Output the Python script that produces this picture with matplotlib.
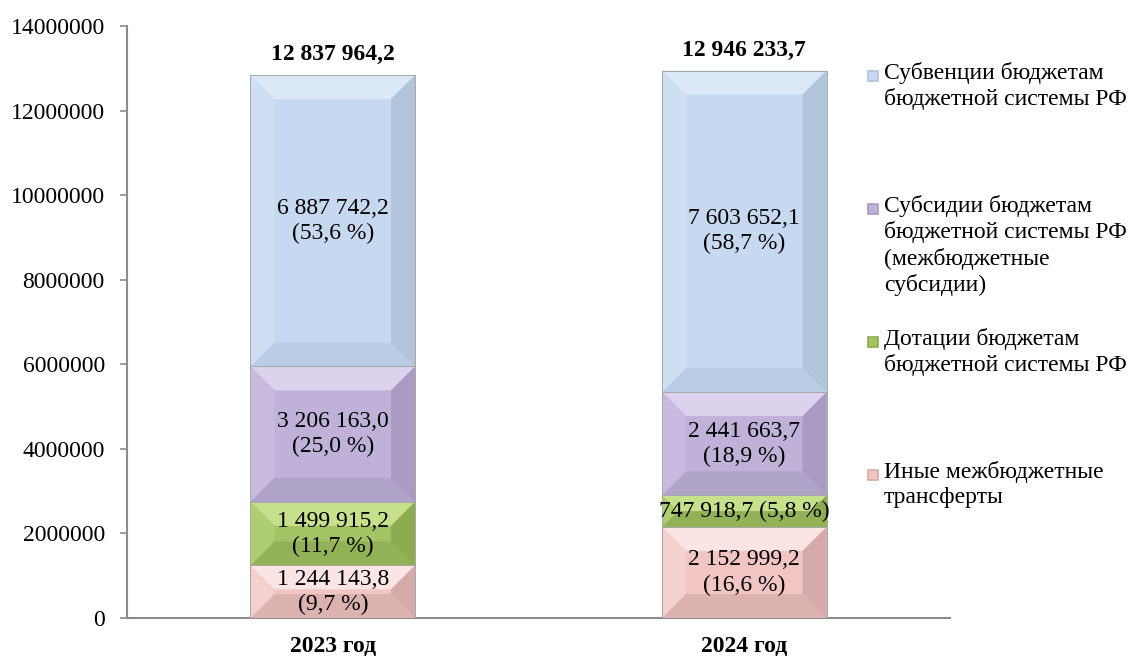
import matplotlib
matplotlib.use("Agg")
import matplotlib.pyplot as plt
from matplotlib.patches import Polygon
import numpy as np

# ---- data ----
categories = ["2023 год", "2024 год"]
series_names = [
    "Иные межбюджетные\nтрансферты",
    "Дотации бюджетам\nбюджетной системы РФ",
    "Субсидии бюджетам\nбюджетной системы РФ\n(межбюджетные\nсубсидии)",
    "Субвенции бюджетам\nбюджетной системы РФ",
]
inye = [1244143.8, 2152999.2]
dotacii = [1499915.2, 747918.7]
subsidii = [3206163.0, 2441663.7]
subvencii = [6887742.2, 7603652.1]
pct_inye = [9.7, 16.6]
pct_dotacii = [11.7, 5.8]
pct_subsidii = [25.0, 18.9]
pct_subvencii = [53.6, 58.7]
totals = [12837964.2, 12946233.7]
yticks = [0, 2000000, 4000000, 6000000, 8000000, 10000000, 12000000, 14000000]

series = [inye, dotacii, subsidii, subvencii]
pcts = [pct_inye, pct_dotacii, pct_subsidii, pct_subvencii]

# colours: face, top, bottom, left, right
palettes = [
    ("#f0c5c4", "#fbe4e4", "#dcb2b1", "#f4d0cf", "#d4abaa"),
    ("#a3c364", "#c6e08c", "#93b257", "#aecd72", "#8dab51"),
    ("#bfb1d8", "#ddd2ee", "#b0a3c8", "#c7bade", "#a99bc2"),
    ("#c6d9f1", "#dae8f8", "#bacde4", "#cedff4", "#b1c4dc"),
]

plt.rcParams['font.family'] = ['Liberation Serif', 'DejaVu Serif']
FS = 17

fig = plt.figure(figsize=(11.34, 6.59), dpi=100)
ax = fig.add_axes([127/1134, 1-618/659, (950-127)/1134, (618-26)/659])

x = np.arange(len(categories))
width = 0.4
ax.set_xlim(-0.5, len(categories) - 0.5)
ax.set_ylim(0, 14000000)

def fmt(v):
    return f"{v:,.1f}".replace(",", " ").replace(".", ",")

bottoms = np.zeros(len(categories))
bar_groups = []
for vals, pal in zip(series, palettes):
    bars = ax.bar(x, vals, width, bottom=bottoms, color=pal[0],
                  edgecolor="#b0b0b0", linewidth=0.6, zorder=2)
    bar_groups.append(bars)
    bottoms = bottoms + np.array(vals)

# bevel overlay
fig.canvas.draw()
inv = ax.transData.inverted()
D = 24
for bars, pal in zip(bar_groups, palettes):
    for b in bars:
        (x0, y0) = ax.transData.transform((b.get_x(), b.get_y()))
        (x1, y1) = ax.transData.transform((b.get_x() + b.get_width(), b.get_y() + b.get_height()))
        d = min(D, (x1 - x0) / 2, (y1 - y0) / 2)
        polys = [
            ([(x0, y1), (x1, y1), (x1 - d, y1 - d), (x0 + d, y1 - d)], pal[1]),
            ([(x0, y0), (x1, y0), (x1 - d, y0 + d), (x0 + d, y0 + d)], pal[2]),
            ([(x0, y0), (x0 + d, y0 + d), (x0 + d, y1 - d), (x0, y1)], pal[3]),
            ([(x1, y0), (x1 - d, y0 + d), (x1 - d, y1 - d), (x1, y1)], pal[4]),
        ]
        for pts, c in polys:
            dp = inv.transform(pts)
            ax.add_patch(Polygon(dp, closed=True, facecolor=c, edgecolor="none", zorder=3))
        ax.add_patch(plt.Rectangle((b.get_x(), b.get_y()), b.get_width(), b.get_height(),
                                   fill=False, edgecolor="#a8a8a8", linewidth=0.7, zorder=4))

# segment labels
bottoms = np.zeros(len(categories))
for vals, pc in zip(series, pcts):
    for i, (v, p) in enumerate(zip(vals, pc)):
        ptxt = f"({p:.1f} %)".replace(".", ",")
        if v < 1000000:
            txt = fmt(v) + " " + ptxt
        else:
            txt = fmt(v) + "\n" + ptxt
        ax.text(x[i], bottoms[i] + v / 2, txt, ha="center", va="center",
                fontsize=FS, linespacing=1.25, zorder=5)
    bottoms = bottoms + np.array(vals)

# totals
for i, t in enumerate(totals):
    ax.annotate(fmt(t), (x[i], bottoms[i]), xytext=(0, 7), textcoords="offset points",
                ha="center", va="bottom", fontsize=FS, fontweight="bold")

ax.set_yticks(yticks)
ax.set_yticklabels([str(t) for t in yticks], fontsize=FS)
ax.set_xticks(x)
ax.set_xticklabels(categories, fontsize=FS, fontweight="bold")
ax.tick_params(axis="x", length=0, pad=13)
ax.tick_params(axis="y", length=5, width=1.2, color="#8c8c8c", pad=11)
for s in ["top", "right"]:
    ax.spines[s].set_visible(False)
for s in ["left", "bottom"]:
    ax.spines[s].set_color("#8c8c8c")
    ax.spines[s].set_linewidth(1.5)

# legend (manual, evenly spaced entries like the source)
legend_order = [3, 2, 1, 0]
top_y = 1 - 76 / 659
step = 133 / 659
for k, idx in enumerate(legend_order):
    yy = top_y - k * step
    pal = palettes[idx]
    sq = 10 / 1134
    sqh = 10 / 659
    fig.patches.append(plt.Rectangle((868 / 1134, yy - sqh / 2), sq, sqh,
                                     transform=fig.transFigure, facecolor=pal[0],
                                     edgecolor=pal[4], linewidth=1.2))
    fig.text(884 / 1134, yy + 14 / 659, series_names[idx], ha="left", va="top",
             fontsize=FS, linespacing=1.25)

fig.savefig("out.png", dpi=100)
